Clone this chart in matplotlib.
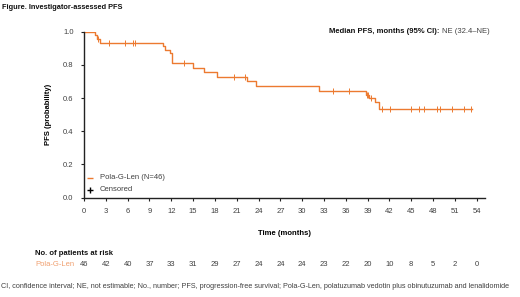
import numpy as np
import matplotlib.pyplot as plt
from matplotlib.transforms import blended_transform_factory, offset_copy

plt.rcParams['font.family'] = ['Liberation Sans', 'DejaVu Sans']

# step curve: time of each step and survival after it
step_times = [0, 1.5, 1.8, 2.2, 10.8, 11.2, 11.8, 12.1, 15.0, 16.5, 18.3, 22.4, 23.6,
              32.3, 38.8, 39.2, 40.0, 40.6, 53.3]
step_surv = [1.0, 0.978, 0.957, 0.935, 0.913, 0.891, 0.869, 0.810, 0.783, 0.756, 0.729,
             0.702, 0.672, 0.645, 0.620, 0.600, 0.575, 0.537, 0.537]
censor_times = [1.9, 3.5, 5.7, 6.7, 7.0, 13.7, 20.6, 22.2, 34.3, 36.5, 38.9, 39.1, 39.4,
                41.0, 42.1, 44.9, 46.1, 46.7, 48.6, 49.0, 50.6, 52.2, 53.2]
risk_times = list(range(0, 55, 3))
risk_counts = [46, 42, 40, 37, 33, 31, 29, 27, 24, 24, 24, 23, 22, 20, 10, 8, 5, 2, 0]

orange = '#EC7A30'
grey = '#404040'
fs = 5.5

fig = plt.figure(figsize=(5.2, 2.97), dpi=100)
ax = fig.add_axes([0.1615, 0.335, 0.772, 0.558])

ax.step(step_times, step_surv, where='post', color=orange, lw=1.0)
idx = np.searchsorted(step_times, censor_times, side='right') - 1
censor_surv = np.array(step_surv)[idx]
ax.plot(censor_times, censor_surv, ls='none', marker='|', ms=5, mew=0.7, color=orange)

ax.set_xlim(0, 55.2)
ax.set_ylim(0, 1.0)
ax.set_xticks(risk_times)
ax.set_yticks([0, 0.2, 0.4, 0.6, 0.8, 1.0])
ax.set_yticklabels(['0.0', '0.2', '0.4', '0.6', '0.8', '1.0'])
ax.tick_params(labelsize=fs, colors='#222222', labelcolor=grey, length=2.5, width=0.8, pad=5)
for s in ['top', 'right']:
    ax.spines[s].set_visible(False)
for s in ['left', 'bottom']:
    ax.spines[s].set_linewidth(1.0)
    ax.spines[s].set_color('#222222')

ax.set_xlabel('Time (months)', fontsize=fs, fontweight='bold', labelpad=11)
ax.set_ylabel('PFS (probability)', fontsize=fs, fontweight='bold', labelpad=8)

# legend
ax.plot([0.85], [0.118], marker='_', ms=4, mew=1, color=orange)
ax.text(2.2, 0.118, 'Pola-G-Len (N=46)', fontsize=fs, color=grey, va='center')
ax.plot([0.85], [0.048], marker='+', ms=5, mew=1.0, color='black')
ax.text(2.2, 0.048, 'Censored', fontsize=fs, color=grey, va='center')

# median text
bold = fig.text(0.633, 0.893, 'Median PFS, months (95% CI):', fontsize=fs, fontweight='bold',
                va='center', color='#111111')
fig.canvas.draw()
bb = bold.get_window_extent()
fig.text(bb.x1 / fig.bbox.width + 0.004, 0.893, 'NE (32.4\u2013NE)', fontsize=fs,
         va='center', color=grey)

fig.text(0.003, 0.975, 'Figure. Investigator-assessed PFS', fontsize=5.3, fontweight='bold',
         va='center', color='#111111')

# at-risk table
tr = blended_transform_factory(ax.transData, fig.transFigure)
fig.text(0.068, 0.147, 'No. of patients at risk', fontsize=fs, fontweight='bold',
         va='center', color='#111111')
fig.text(0.068, 0.111, 'Pola-G-Len', fontsize=fs, va='center', color='#F0A070')
for t, n in zip(risk_times, risk_counts):
    ax.text(t, 0.111, str(n), transform=tr, fontsize=fs, ha='center', va='center', color=grey)

fig.text(0.002, 0.035, 'CI, confidence interval; NE, not estimable; No., number; PFS, '
         'progression-free survival; Pola-G-Len, polatuzumab vedotin plus obinutuzumab '
         'and lenalidomide', fontsize=5.25, va='center', color=grey)

fig.savefig('out.png', dpi=100)
